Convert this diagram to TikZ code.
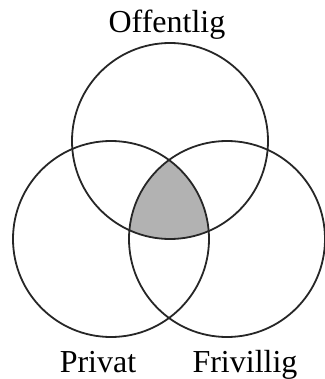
\documentclass[tikz,border=0pt]{standalone}
\usepackage{fontspec}
\setmainfont{Liberation Serif}
\begin{document}
\begin{tikzpicture}[x=1pt,y=-1pt,
  setcircle/.style={draw=black!85,line width=1.8pt},
  lab/.style={font=\fontsize{32}{36}\selectfont,anchor=base,inner sep=0pt}]
\useasboundingbox (0,0) rectangle (324,379);
\def\R{98}
\begin{scope}
  \clip (170,141) circle (\R);
  \clip (111,239) circle (\R);
  \fill[black!30] (227,239) circle (\R);
\end{scope}
\draw[setcircle] (170,141) circle (\R);
\draw[setcircle] (111,239) circle (\R);
\draw[setcircle] (227,239) circle (\R);
\node[lab] (off) at (167,33) {Offentlig};
\node[lab] (priv) at (98,372) {Privat};
\node[lab] (fri) at (245,372) {Frivillig};
\end{tikzpicture}
\end{document}
